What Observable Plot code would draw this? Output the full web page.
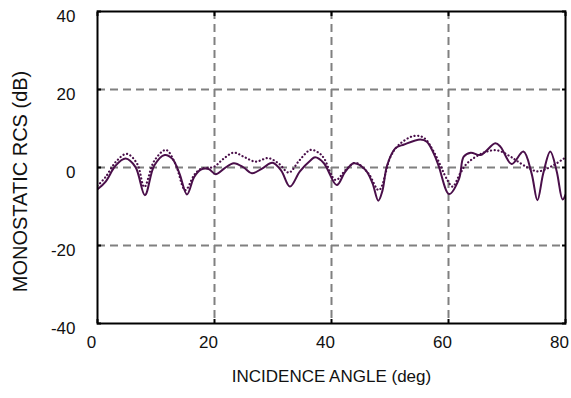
<!DOCTYPE html>
<html>
<head>
<meta charset="utf-8">
<script src="https://cdn.jsdelivr.net/npm/d3@7"></script>
<script src="https://cdn.jsdelivr.net/npm/@observablehq/plot@0.6"></script>
<style>
  html, body { margin: 0; padding: 0; background: #fff; }
  #chart svg { display: block; }
</style>
</head>
<body>
<div id="chart"></div>
<script>
const xTicks = [0, 20, 40, 60, 80];
const yTicks = [-40, -20, 0, 20, 40];
const xGrid = [20, 40, 60];
const yGrid = [-20, 0, 20];

const solidAngle = [0, 1.4, 3.1, 4.8, 6.5, 8.1, 9.7, 11.5, 12.8, 14.0, 15.3, 16.5, 17.6, 19.0, 20.2, 21.7, 23.3, 25.0, 26.4, 28.2, 29.9, 31.4, 32.9, 34.6, 36.4, 37.2, 38.7, 40.9, 42.3, 43.8, 45.8, 47.0, 48.0, 48.7, 49.5, 50.9, 52.4, 55.2, 56.3, 57.5, 58.3, 60.1, 61.8, 62.6, 63.8, 65.5, 68.0, 68.9, 70.8, 72.8, 74.2, 75.2, 76.2, 77.4, 78.5, 79.5, 80];
const solidRCS = [-5.6, -3.6, 0.5, 2.3, 0.1, -7.1, 0.5, 3.2, 2.2, -1.5, -6.9, -2.5, -0.6, -0.4, -1.7, -0.2, 1.1, 0.0, -1.5, -0.2, 1.2, -0.8, -4.9, -1.0, 1.8, 2.6, 1.1, -4.5, -1.2, 1.1, -0.6, -4.0, -8.5, -6.0, 0.5, 4.9, 5.9, 7.2, 6.6, 3.5, 0.5, -6.8, -2.9, 2.8, 3.8, 3.2, 6.2, 5.3, 0.9, 4.1, -1.5, -8.4, -1.5, 4.1, -1.0, -8.2, -7.0];

const dotAngle = [0, 1.4, 3.1, 5.0, 6.8, 8.0, 9.7, 11.7, 13.3, 15.0, 16.5, 17.6, 19.9, 21.5, 23.3, 25.2, 27.0, 29.2, 31.0, 32.7, 34.5, 36.4, 37.8, 38.7, 40.7, 42.5, 44.1, 46.3, 48.1, 50.1, 51.5, 54.1, 55.8, 57.5, 59.8, 60.7, 62.0, 63.2, 66.0, 68.3, 70.6, 71.2, 73.4, 75.3, 77.6, 80];
const dotRCS = [-4.7, -2.4, 1.4, 3.5, 0.9, -5.0, 1.7, 4.5, 1.0, -5.8, -2.0, -0.4, 0.2, 2.2, 3.8, 2.6, 1.5, 2.4, 1.0, -1.3, 1.8, 4.5, 3.8, 2.4, -3.2, -0.5, 1.2, -1.5, -5.8, 2.8, 5.8, 8.1, 7.6, 4.0, -3.2, -4.9, -1.5, 1.1, 3.8, 4.4, 2.8, 2.2, 0.1, -1.0, 0.3, 2.6];

const solid = solidAngle.map((a, i) => ({angle: a, rcs: solidRCS[i]}));
const dotted = dotAngle.map((a, i) => ({angle: a, rcs: dotRCS[i]}));

const lineColor = "#4a0f4a";
const plain = d => String(d);
const blank = () => "";

const chart = Plot.plot({
  width: 571,
  height: 398,
  marginLeft: 97,
  marginRight: 6,
  marginTop: 11,
  marginBottom: 75,
  style: {fontFamily: "'Liberation Sans', Arial, sans-serif", fontSize: "17px", color: "#111", background: "#fff"},
  x: {domain: [0, 80], ticks: xTicks},
  y: {domain: [-40, 40], ticks: yTicks},
  marks: [
    Plot.ruleY(yGrid, {stroke: "#808080", strokeWidth: 2, strokeDasharray: "8,5"}),
    Plot.ruleX(xGrid, {stroke: "#808080", strokeWidth: 2, strokeDasharray: "8,5"}),
    Plot.line(dotted, {x: "angle", y: "rcs", stroke: lineColor, strokeWidth: 2.2, strokeDasharray: "0.1,3.6", strokeLinecap: "round", curve: "catmull-rom", clip: true}),
    Plot.line(solid, {x: "angle", y: "rcs", stroke: lineColor, strokeWidth: 2, curve: "catmull-rom", clip: true}),
    Plot.frame({stroke: "#000", strokeWidth: 2}),
    Plot.axisY({ticks: yTicks, anchor: "left", tickSize: -4, tickFormat: blank, label: null, stroke: "#000", strokeWidth: 2}),
    Plot.axisY({ticks: yTicks, anchor: "right", tickSize: -4, tickFormat: blank, label: null, stroke: "#000", strokeWidth: 2}),
    Plot.axisX({ticks: xTicks, anchor: "top", tickSize: -4, tickFormat: blank, label: null, stroke: "#000", strokeWidth: 2}),
    Plot.axisX({ticks: xTicks, anchor: "bottom", tickSize: -4, tickFormat: blank, label: null, stroke: "#000", strokeWidth: 2}),
    Plot.axisY({ticks: yTicks, anchor: "left", tickSize: 0, tickPadding: 22, dy: 5, fontSize: 17, tickFormat: plain, label: null}),
    Plot.axisX({ticks: xTicks, anchor: "bottom", tickSize: 0, tickPadding: 12, dx: -6, fontSize: 17, tickFormat: plain, label: null}),
    Plot.text(["INCIDENCE ANGLE (deg)"], {frameAnchor: "bottom", dy: 58, fontSize: 17}),
    Plot.text(["MONOSTATIC RCS (dB)"], {frameAnchor: "left", textAnchor: "middle", dx: -77, dy: 14, rotate: -90, fontSize: 20})
  ]
});
document.getElementById("chart").appendChild(chart);
</script>
</body>
</html>
